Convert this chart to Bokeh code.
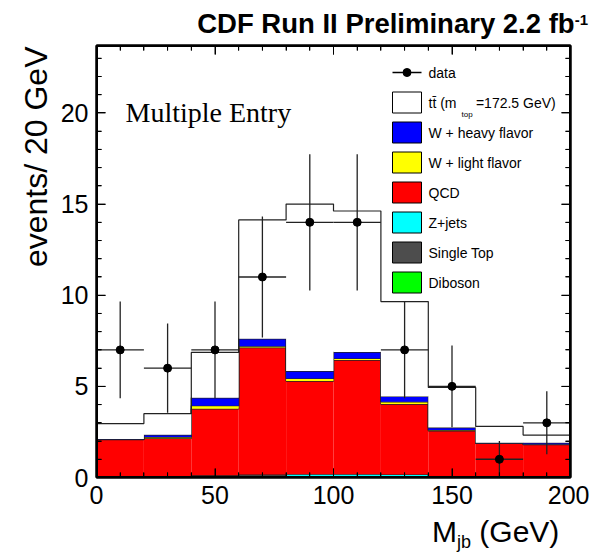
import numpy as np
from bokeh.plotting import figure
from bokeh.layouts import column
from bokeh.models import (ColumnDataSource, Label, LinearAxis, SingleIntervalTicker,
                          Range1d, Title, Div)
from bokeh.embed import file_html
from bokeh.resources import INLINE

# ---- data ----
bin_edges = [0, 20, 40, 60, 80, 100, 120, 140, 160, 180, 200]
data_counts = [7, 6, 7, 11, 14, 14, 7, 5, 1, 3]
data_err = [2.65, 2.45, 2.65, 3.32, 3.74, 3.74, 2.65, 2.24, 1.0, 1.73]

diboson    = [0.02, 0.02, 0.02, 0.03, 0.03, 0.03, 0.02, 0.01, 0.01, 0.01]
single_top = [0.02, 0.02, 0.10, 0.12, 0.03, 0.03, 0.03, 0.02, 0.01, 0.01]
z_jets     = [0.00, 0.00, 0.00, 0.02, 0.12, 0.12, 0.12, 0.00, 0.00, 0.00]
qcd        = [2.03, 2.11, 3.65, 6.96, 5.11, 6.26, 3.86, 2.53, 1.85, 1.78]
w_light    = [0.02, 0.07, 0.17, 0.07, 0.14, 0.09, 0.12, 0.04, 0.01, 0.03]
w_heavy    = [0.02, 0.12, 0.43, 0.41, 0.41, 0.35, 0.30, 0.14, 0.02, 0.07]
ttbar      = [0.85, 1.16, 2.49, 6.52, 9.16, 7.74, 5.20, 2.20, 0.90, 0.43]

legend_labels = ["data", "tt\u0304 (m\u00a0\u00a0\u00a0\u00a0\u00a0=172.5 GeV)",
                 "W + heavy flavor", "W + light flavor", "QCD", "Z+jets",
                 "Single Top", "Diboson"]

x_min, x_max = 0, 200
y_min, y_max = 0, 23.7
x_tick_interval = 50
y_tick_interval = 5
n_minor = 5

FONT = "Liberation Sans"

# ---- layout (pixels); the whole page stays inside the 597x555 window ----
W, H = 589, 547
TOP_DIV_H = 40
FRAME_L, FRAME_T, FRAME_W, FRAME_H = 96, 45, 474, 432
FRAME_B = FRAME_T + FRAME_H
BORDER_B = 40
FIG_H = (FRAME_T - TOP_DIV_H) + FRAME_H + BORDER_B
BOT_DIV_H = H - TOP_DIV_H - FIG_H
MAJOR_TICK_PX, MINOR_TICK_PX = 9, 5

x_per_px = (x_max - x_min) / FRAME_W
y_per_px = (y_max - y_min) / FRAME_H


def px2x(px):
    return x_min + (px - FRAME_L) * x_per_px


def py2y(py):
    return y_min + (FRAME_B - py) * y_per_px


p = figure(frame_width=FRAME_W, frame_height=FRAME_H,
           x_range=Range1d(x_min, x_max), y_range=Range1d(y_min, y_max),
           output_backend="svg", toolbar_location=None,
           min_border_left=FRAME_L, min_border_right=W - FRAME_L - FRAME_W,
           min_border_top=FRAME_T - TOP_DIV_H, min_border_bottom=BORDER_B)
p.grid.visible = False
p.outline_line_color = "black"
p.outline_line_width = 2
p.background_fill_color = "white"
p.border_fill_color = "white"


def style_axis(ax, show_labels):
    ax.axis_line_width = 2
    ax.axis_line_color = "black"
    ax.major_tick_in = MAJOR_TICK_PX
    ax.major_tick_out = 0
    ax.minor_tick_in = MINOR_TICK_PX
    ax.minor_tick_out = 0
    ax.major_tick_line_color = "black"
    ax.minor_tick_line_color = "black"
    ax.major_tick_line_width = 1
    ax.minor_tick_line_width = 1
    if show_labels:
        ax.major_label_text_font = FONT
        ax.major_label_text_font_size = "25px"
        ax.major_label_text_color = "black"
        ax.major_label_standoff = 8
    else:
        ax.major_label_text_font_size = "0px"
        ax.major_label_standoff = 0


p.xaxis[0].ticker = SingleIntervalTicker(interval=x_tick_interval, num_minor_ticks=n_minor)
p.yaxis[0].ticker = SingleIntervalTicker(interval=y_tick_interval, num_minor_ticks=n_minor)
style_axis(p.xaxis[0], True)
style_axis(p.yaxis[0], True)

top_ax = LinearAxis(ticker=SingleIntervalTicker(interval=x_tick_interval, num_minor_ticks=n_minor))
right_ax = LinearAxis(ticker=SingleIntervalTicker(interval=y_tick_interval, num_minor_ticks=n_minor))
style_axis(top_ax, False)
style_axis(right_ax, False)
p.add_layout(top_ax, "above")
p.add_layout(right_ax, "right")

# y-axis title, aligned to the top end of the axis (ROOT style)
p.add_layout(Title(text="events/ 20 GeV", align="right", vertical_align="bottom",
                   text_font=FONT, text_font_size="32px", text_font_style="normal",
                   text_color="black", standoff=8, offset=1), "left")

# ---- stacked histogram ----
edges = np.array(bin_edges, dtype=float)
left = edges[:-1]
right = edges[1:]
layers = [
    ("Diboson", diboson, "#00ff00"),
    ("Single Top", single_top, "#4d4d4d"),
    ("Z+jets", z_jets, "#00ffff"),
    ("QCD", qcd, "#ff0000"),
    ("W + light flavor", w_light, "#ffff00"),
    ("W + heavy flavor", w_heavy, "#0000ff"),
    ("ttbar", ttbar, "#ffffff"),
]
bottom = np.zeros(len(left))
for name, vals, col in layers:
    top = bottom + np.array(vals)
    src = ColumnDataSource(dict(left=left, right=right, bottom=bottom.copy(), top=top.copy()))
    p.quad(left="left", right="right", bottom="bottom", top="top", source=src,
           fill_color=col, line_color=None)
    ystep = list(top) + [top[-1]]
    p.step(x=list(edges), y=ystep, mode="after", line_color="#222222", line_width=1.2)
    bottom = top

# ---- data points ----
centers = (left + right) / 2
counts = np.array(data_counts, dtype=float)
errs = np.array(data_err)
dsrc = ColumnDataSource(dict(x=centers, y=counts, lo=np.clip(counts - errs, 0, None),
                             hi=counts + errs, l=left, r=right))
p.segment(x0="x", y0="lo", x1="x", y1="hi", source=dsrc, line_color="#222222", line_width=1.3)
p.segment(x0="l", y0="y", x1="r", y1="y", source=dsrc, line_color="#222222", line_width=1.3)
p.scatter(x="x", y="y", source=dsrc, size=8, color="black")

# ---- ROOT-style frame with inward ticks on all four sides ----
x_minor_step = x_tick_interval / n_minor
y_minor_step = y_tick_interval / n_minor
xt = np.arange(x_min, x_max + 1e-9, x_minor_step)
yt = np.arange(y_min, y_max + 1e-9, y_minor_step)
x_is_major = np.isclose(np.mod(xt - x_min, x_tick_interval), 0) | \
    np.isclose(np.mod(xt - x_min, x_tick_interval), x_tick_interval)
y_is_major = np.isclose(np.mod(yt - y_min, y_tick_interval), 0) | \
    np.isclose(np.mod(yt - y_min, y_tick_interval), y_tick_interval)
xlen = np.where(x_is_major, MAJOR_TICK_PX, MINOR_TICK_PX) * y_per_px
ylen = np.where(y_is_major, MAJOR_TICK_PX, MINOR_TICK_PX) * x_per_px
tick_x0 = np.concatenate([xt, xt, np.full(len(yt), x_min), np.full(len(yt), x_max)])
tick_x1 = np.concatenate([xt, xt, x_min + ylen, x_max - ylen])
tick_y0 = np.concatenate([np.full(len(xt), y_min), np.full(len(xt), y_max), yt, yt])
tick_y1 = np.concatenate([y_min + xlen, y_max - xlen, yt, yt])
p.segment(x0=tick_x0, y0=tick_y0, x1=tick_x1, y1=tick_y1, line_color="black", line_width=1)
p.segment(x0=[x_min, x_min, x_min, x_max], y0=[y_min, y_max, y_min, y_min],
          x1=[x_max, x_max, x_min, x_max], y1=[y_min, y_max, y_max, y_max],
          line_color="black", line_width=3)

# ---- legend (drawn as a ROOT-style box list) ----
LEG_X0, LEG_X1, LEG_TEXT_X = 392, 421, 428
LEG_ROW0, LEG_PITCH, LEG_BOX_H = 72, 30, 21
rows = [LEG_ROW0 + LEG_PITCH * i for i in range(len(legend_labels))]
swatch_colors = ["#ffffff", "#0000ff", "#ffff00", "#ff0000", "#00ffff", "#4d4d4d", "#00ff00"]
sw_rows = rows[1:]
p.quad(left=[px2x(LEG_X0)] * len(sw_rows), right=[px2x(LEG_X1)] * len(sw_rows),
       bottom=[py2y(r + LEG_BOX_H / 2) for r in sw_rows],
       top=[py2y(r - LEG_BOX_H / 2) for r in sw_rows],
       fill_color=swatch_colors, line_color="black", line_width=1)
p.segment(x0=[px2x(LEG_X0)], y0=[py2y(rows[0])], x1=[px2x(LEG_X1)], y1=[py2y(rows[0])],
          line_color="black", line_width=1.3)
p.scatter(x=[px2x((LEG_X0 + LEG_X1) / 2)], y=[py2y(rows[0])], size=8, color="black")


# ---- texts inside the frame (page pixels from the top-left corner) ----
def lab(text, px, py, size, **kw):
    p.add_layout(Label(x=px - FRAME_L, y=FRAME_B - py, x_units="screen",
                       y_units="screen", text=text, text_font=kw.pop("font", FONT),
                       text_font_size=size, text_color="black", **kw))


for text, r in zip(legend_labels, rows):
    lab(text, LEG_TEXT_X, r, "14px", text_baseline="middle")
lab("top", 461, 114, "8px", text_baseline="alphabetic")
lab("Multiple Entry", 125, 112, "28px", font="Liberation Serif", text_baseline="alphabetic")

# ---- header and x-axis title as HTML text ----
header = Div(
    text=("CDF Run II Preliminary 2.2 fb"
          "<span style=\"font-size:15px; position:relative; top:-8px;\">-1</span>"),
    width=W, height=TOP_DIV_H,
    styles={"font-family": "'Liberation Sans', Arial, sans-serif", "font-weight": "bold",
            "font-size": "27.5px", "line-height": "27px", "color": "black",
            "text-align": "right", "white-space": "nowrap", "padding": "10px 1px 0 0",
            "box-sizing": "border-box", "margin": "0"})
xtitle = Div(
    text=("M<span style=\"font-size:18px; position:relative; top:6px;\">jb</span>"
          "&nbsp;(GeV)"),
    width=W, height=BOT_DIV_H,
    styles={"font-family": "'Liberation Sans', Arial, sans-serif", "font-weight": "normal",
            "font-size": "30px", "line-height": "30px", "color": "black",
            "text-align": "left", "white-space": "nowrap", "padding": "0 0 0 432px",
            "box-sizing": "border-box", "margin": "0"})

layout = column(header, p, xtitle, spacing=0)
open("out.html", "w").write(file_html(layout, INLINE))
